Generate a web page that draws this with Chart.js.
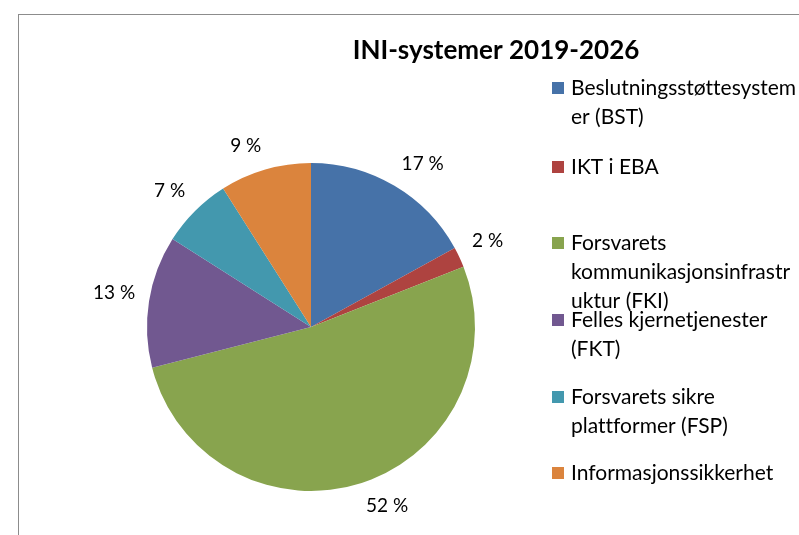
<!DOCTYPE html>
<html>
<head>
<meta charset="utf-8">
<script src="https://cdn.jsdelivr.net/npm/chart.js@4/dist/chart.umd.min.js"></script>
<style>
  html, body { margin: 0; padding: 0; background: #fff; overflow: hidden; }
  #wrap { width: 799px; height: 535px; }
</style>
</head>
<body>
<div id="wrap"><canvas id="pie" width="799" height="535"></canvas></div>
<script>
const title = 'INI-systemer 2019-2026';
const categories = [
    ['Beslutningsstøttesystem', 'er (BST)'],
    ['IKT i EBA'],
    ['Forsvarets', 'kommunikasjonsinfrastr', 'uktur (FKI)'],
    ['Felles kjernetjenester', '(FKT)'],
    ['Forsvarets sikre', 'plattformer (FSP)'],
    ['Informasjonssikkerhet']
];
const shares = [17, 2, 52, 13, 7, 9];
const colors = ['#4672A8', '#AE4340', '#88A44E', '#715890', '#4398AE', '#DB843D'];

const FONT = 'Lato, "Noto Sans", sans-serif';

// frame, title, percent labels and the legend on the right
const decor = {
    id: 'decor',
    beforeDraw(chart) {
        const ctx = chart.ctx;
        ctx.save();
        ctx.strokeStyle = '#8c8c8c';
        ctx.lineWidth = 1;
        ctx.strokeRect(18.5, 14.5, 900, 900);
        ctx.restore();
    },
    afterDraw(chart) {
        const ctx = chart.ctx;
        ctx.save();
        ctx.textRendering = 'optimizeSpeed'; // no "tt" ligature
        ctx.fillStyle = '#000';
        ctx.font = 'bold 26px ' + FONT;
        ctx.textAlign = 'center';
        ctx.textBaseline = 'middle';
        ctx.fillText(title, 496, 51);

        // percent labels, "outside end" style: box corner touches a point just off the rim
        ctx.font = '19px ' + FONT;
        const clamp = v => Math.max(-1, Math.min(1, v));
        const meta = chart.getDatasetMeta(0);
        meta.data.forEach((arc, i) => {
            const txt = shares[i] + ' %';
            const mid = (arc.startAngle + arc.endAngle) / 2;
            const dx = Math.cos(mid), dy = Math.sin(mid);
            const r = arc.outerRadius + 14;
            const w = ctx.measureText(txt).width, h = 20;
            const x = arc.x + dx * r + clamp(dx / 0.25) * w / 2;
            const y = arc.y + dy * r + clamp(dy / 0.25) * h / 2;
            ctx.fillText(txt, x, y);
        });

        // legend
        const rows = [88, 167, 243, 320, 397, 473];
        ctx.textAlign = 'left';
        ctx.font = '21px ' + FONT;
        categories.forEach((lines, i) => {
            ctx.fillStyle = colors[i];
            ctx.fillRect(552, rows[i] - 6, 12, 12);
            ctx.fillStyle = '#000';
            lines.forEach((t, j) => ctx.fillText(t, 571, rows[i] + j * 29));
        });
        ctx.restore();
    }
};

new Chart(document.getElementById('pie'), {
    type: 'pie',
    data: {
        labels: categories.map(c => c.join('')),
        datasets: [{
            data: shares,
            backgroundColor: colors,
            borderWidth: 0
        }]
    },
    options: {
        responsive: false,
        animation: false,
        layout: {
            padding: { left: 147, right: 324, top: 163, bottom: 44 }
        },
        plugins: {
            legend: { display: false },
            tooltip: { enabled: false }
        }
    },
    plugins: [decor]
});
</script>
</body>
</html>
